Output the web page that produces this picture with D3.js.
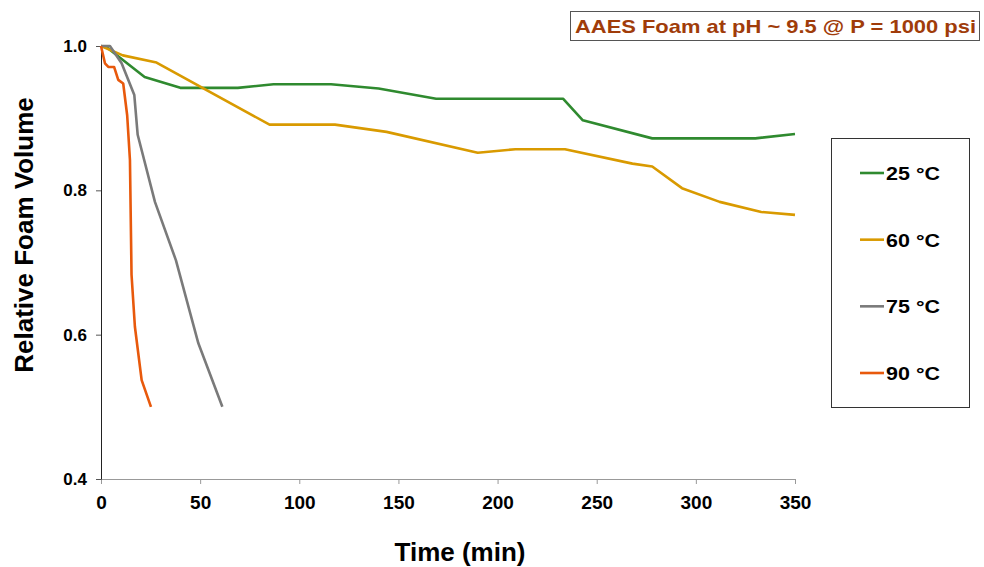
<!DOCTYPE html>
<html>
<head>
<meta charset="utf-8">
<script src="https://cdn.jsdelivr.net/npm/d3@7"></script>
<style>
  body { margin: 0; background: #fff; }
  svg text { font-family: "Liberation Sans", Arial, sans-serif; font-weight: bold; }
</style>
</head>
<body>
<div id="main"></div>
<script>
// data (time in min, relative foam volume)
const series25 = [[0,1.0],[3,0.998],[22,0.957],[40,0.942],[69,0.942],[87,0.947],[116,0.947],
                  [140,0.941],[169,0.927],[233,0.927],[243,0.897],[278,0.872],[330,0.872],[350,0.878]];
const series60 = [[0,1.0],[11,0.987],[28,0.977],[85,0.891],[118,0.891],[144,0.881],[190,0.852],
                  [209,0.857],[234,0.857],[268,0.837],[278,0.833],[293,0.803],[312,0.784],[333,0.770],[350,0.766]];
const series75 = [[0,1.0],[4.5,1.0],[10.4,0.976],[16.8,0.932],[18.5,0.877],[27.2,0.784],
                  [37.8,0.703],[49.1,0.588],[61.2,0.5]];
const series90 = [[0,1.0],[2,0.976],[3.7,0.971],[6.6,0.971],[8.7,0.953],[11.2,0.948],[13.2,0.904],
                  [14.6,0.842],[15.4,0.683],[17.1,0.611],[20.5,0.537],[25.2,0.5]];
const seriesNames = ["25 °C", "60 °C", "75 °C", "90 °C"];
const seriesColors = ["#2f8a2f", "#d99a00", "#7a7a7a", "#e8590c"];
const xTicks = [0, 50, 100, 150, 200, 250, 300, 350];
const yTicks = [0.4, 0.6, 0.8, 1.0];
const titleText = "AAES Foam at pH ~ 9.5 @ P = 1000 psi";

const ctx = {w: 984, h: 567, left: 101, right: 795, top: 46, bottom: 479};

function createViz(){
    let svg = d3.select("#main").append("svg")
        .attr("width", ctx.w).attr("height", ctx.h);
    let x = d3.scaleLinear().domain([0, 350]).range([ctx.left, ctx.right]);
    let y = d3.scaleLinear().domain([0.4, 1.0]).range([ctx.bottom, ctx.top]);

    // x axis
    let xa = svg.append("g").attr("transform", `translate(0,${ctx.bottom})`)
        .call(d3.axisBottom(x).tickValues(xTicks).tickSize(5).tickPadding(12).tickSizeOuter(0));
    xa.select(".domain").attr("stroke", "#999");
    xa.selectAll(".tick line").attr("stroke", "#999");
    xa.selectAll("text").attr("font-size", 19).attr("fill", "#000")
      .attr("font-family", "'Liberation Sans', Arial, sans-serif");

    // y axis
    let ya = svg.append("g").attr("transform", `translate(${ctx.left},0)`)
        .call(d3.axisLeft(y).tickValues(yTicks).tickFormat(d3.format(".1f"))
              .tickSize(5).tickPadding(9).tickSizeOuter(0));
    ya.select(".domain").attr("stroke", "#222");
    ya.selectAll(".tick line").attr("stroke", "#555");
    ya.selectAll("text").attr("font-size", 17).attr("fill", "#000")
      .attr("font-family", "'Liberation Sans', Arial, sans-serif");

    // axis titles
    svg.append("text").attr("x", 460).attr("y", 561)
       .attr("text-anchor", "middle").attr("font-size", 26).text("Time (min)");
    svg.append("text").attr("transform", "translate(33,235) rotate(-90)")
       .attr("text-anchor", "middle").attr("font-size", 26).text("Relative Foam Volume");

    // lines
    let line = d3.line().x(d => x(d[0])).y(d => y(d[1]));
    [series25, series60, series75, series90].forEach((s, i) => {
        svg.append("path").datum(s).attr("d", line)
           .attr("fill", "none").attr("stroke", seriesColors[i])
           .attr("stroke-width", 2.6).attr("stroke-linejoin", "round");
    });

    // title box
    svg.append("rect").attr("x", 570.5).attr("y", 11.5).attr("width", 409).attr("height", 29)
       .attr("fill", "#fff").attr("stroke", "#555").attr("stroke-width", 1);
    svg.append("text").attr("x", 575).attr("y", 32.5)
       .attr("textLength", 401).attr("lengthAdjust", "spacingAndGlyphs")
       .attr("font-size", 19).attr("fill", "#a03c0a").text(titleText);

    // legend
    let lg = svg.append("g");
    lg.append("rect").attr("x", 831.5).attr("y", 138.5).attr("width", 138).attr("height", 269)
      .attr("fill", "#fff").attr("stroke", "#333").attr("stroke-width", 1);
    let ly = d3.scalePoint().domain(seriesNames).range([173, 373]);
    seriesNames.forEach((n, i) => {
        lg.append("line").attr("x1", 860).attr("x2", 884)
          .attr("y1", ly(n)).attr("y2", ly(n))
          .attr("stroke", seriesColors[i]).attr("stroke-width", 2.6);
        lg.append("text").attr("x", 886).attr("y", ly(n) + 7)
          .attr("textLength", 54).attr("lengthAdjust", "spacingAndGlyphs")
          .attr("font-size", 19).attr("fill", "#000").text(n);
    });
}
createViz();
</script>
</body>
</html>
